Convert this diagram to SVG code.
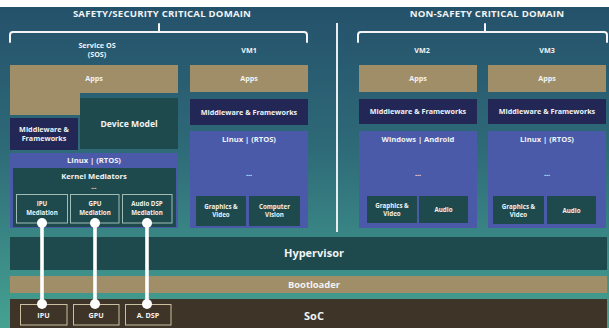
<svg xmlns="http://www.w3.org/2000/svg" width="609" height="328" viewBox="0 0 609 328">
<defs>
<linearGradient id="bg" x1="0" y1="0" x2="0" y2="1">
<stop offset="0" stop-color="#24506a"/>
<stop offset="0.45" stop-color="#2e6a78"/>
<stop offset="1" stop-color="#45a291"/>
</linearGradient>
</defs>
<style>
text{font-family:"Open Sans","DejaVu Sans",sans-serif;font-weight:700;fill:#f1f3f4;text-anchor:middle;}
.t{font-size:9.6px;letter-spacing:0.2px}
.h{font-size:7.2px}
.l{font-size:7.6px}
.s{font-size:7.2px}
.xs{font-size:6.2px}
.m{font-size:8.6px}
.b{font-size:11px}
.bt{font-size:9.4px}
.tan{fill:#a08e68}
.navy{fill:#222755}
.dk{fill:#1f4a4d}
.blue{fill:#4a5aa9}
.soc{fill:#3e3428}
.med{fill:#1f4a4d;stroke:#9fbdb5;stroke-width:1}
.chip{fill:#3e3428;stroke:#cbbf9f;stroke-width:1}
.br{fill:none;stroke:#f2f4f5;stroke-width:2;stroke-linecap:round}
.conn line{stroke:#ffffff;stroke-width:3.6}
.conn circle{fill:#ffffff}
</style>
<rect x="0" y="0" width="609" height="328" fill="url(#bg)"/>
<rect x="0" y="0" width="609" height="7" fill="#ffffff"/>

<g id="domains">
<text class="t" x="162" y="17">SAFETY/SECURITY CRITICAL DOMAIN</text>
<path class="br" d="M10,42 V35 Q10,32 13,32 H304 Q307,32 307,35 V42 M159,24 V32"/>
<text class="t" x="487" y="17">NON-SAFETY CRITICAL DOMAIN</text>
<path class="br" d="M358,42 V35 Q358,32 361,32 H604 Q607,32 607,35 V42 M485,24 V32"/>
<line x1="337" y1="23" x2="337" y2="232" stroke="#e8eef0" stroke-width="2"/>
</g>

<g id="sos">
<text class="h" x="97" y="48">Service OS</text>
<text class="h" x="97" y="57">(SOS)</text>
<path class="tan" d="M10,65 H178 V93 H80 V115 H10 Z"/>
<text class="h" x="94" y="81">Apps</text>
<rect class="navy" x="10" y="118" width="68" height="32"/>
<text class="h" x="44" y="132">Middleware &amp;</text>
<text class="h" x="44" y="141">Frameworks</text>
<rect class="dk" x="80" y="98" width="98" height="51"/>
<text class="m" x="129" y="127">Device Model</text>
<rect class="blue" x="10" y="153" width="168" height="75"/>
<text class="l" x="94" y="163">Linux | (RTOS)</text>
<rect class="dk" x="13" y="168" width="163" height="59"/>
<text class="l" x="94" y="178.5">Kernel Mediators</text>
<text class="xs" x="94" y="189">...</text>
</g>
<g id="ipu-med"><rect class="med" x="16.5" y="194.5" width="51" height="28.5"/><text class="xs" x="42" y="206">IPU</text><text class="xs" x="42" y="215">Mediation</text></g>
<g id="gpu-med"><rect class="med" x="70.5" y="194.5" width="48.5" height="28.5"/><text class="xs" x="95" y="206">GPU</text><text class="xs" x="95" y="215">Mediation</text></g>
<g id="dsp-med"><rect class="med" x="122.5" y="194.5" width="49.5" height="28.5"/><text class="xs" x="147" y="206">Audio DSP</text><text class="xs" x="147" y="215">Mediation</text></g>

<g id="vm1">
<text class="h" x="249" y="53">VM1</text>
<rect class="tan" x="190" y="65" width="118" height="27"/>
<text class="h" x="249" y="81">Apps</text>
<rect class="navy" x="190" y="99" width="118" height="26"/>
<text class="h" x="249" y="114.5">Middleware &amp; Frameworks</text>
<rect class="blue" x="190" y="131" width="118" height="97"/>
<text class="l" x="249" y="142">Linux | (RTOS)</text>
<text class="h" x="249" y="176">...</text>
<rect class="dk" x="196" y="196" width="50" height="30"/>
<text class="xs" x="221" y="209">Graphics &amp;</text><text class="xs" x="221" y="217">Video</text>
<rect class="dk" x="249" y="196" width="51" height="30"/>
<text class="xs" x="274.5" y="209">Computer</text><text class="xs" x="274.5" y="217">Vision</text>
</g>

<g id="vm2">
<text class="h" x="422" y="53">VM2</text>
<rect class="tan" x="359" y="65" width="118" height="27"/>
<text class="h" x="418" y="81">Apps</text>
<rect class="navy" x="359" y="99" width="118" height="25"/>
<text class="h" x="418" y="114">Middleware &amp; Frameworks</text>
<rect class="blue" x="359" y="131" width="118" height="97"/>
<text class="l" x="418" y="142">Windows | Android</text>
<text class="h" x="418" y="176">...</text>
<rect class="dk" x="367" y="196" width="50" height="27"/>
<text class="xs" x="392" y="208">Graphics &amp;</text><text class="xs" x="392" y="216">Video</text>
<rect class="dk" x="419" y="196" width="49" height="27"/>
<text class="xs" x="443.5" y="212">Audio</text>
</g>

<g id="vm3">
<text class="h" x="547" y="53">VM3</text>
<rect class="tan" x="488" y="65" width="118" height="27"/>
<text class="h" x="547" y="81">Apps</text>
<rect class="navy" x="488" y="99" width="118" height="25"/>
<text class="h" x="547" y="114">Middleware &amp; Frameworks</text>
<rect class="blue" x="488" y="131" width="118" height="97"/>
<text class="l" x="547" y="142">Linux | (RTOS)</text>
<text class="h" x="547" y="176">...</text>
<rect class="dk" x="493" y="196" width="51" height="28"/>
<text class="xs" x="518.5" y="209">Graphics &amp;</text><text class="xs" x="518.5" y="217">Video</text>
<rect class="dk" x="547" y="196" width="49" height="28"/>
<text class="xs" x="571.5" y="213">Audio</text>
</g>

<g id="hypervisor"><rect class="dk" x="10" y="237" width="597" height="33"/><text class="b" x="314" y="257">Hypervisor</text></g>
<g id="bootloader"><rect class="tan" x="10" y="276" width="597" height="17"/><text class="bt" x="314" y="288">Bootloader</text></g>
<g id="soc"><rect class="soc" x="10" y="299" width="597" height="29"/><text class="b" x="314" y="320">SoC</text></g>
<g id="ipu"><rect class="chip" x="20.5" y="304.5" width="46.5" height="20.5"/><text class="s" x="43.5" y="318">IPU</text></g>
<g id="gpu"><rect class="chip" x="73.5" y="304.5" width="45.5" height="20.5"/><text class="s" x="96" y="318">GPU</text></g>
<g id="adsp"><rect class="chip" x="125.5" y="304.5" width="45.5" height="20.5"/><text class="s" x="148" y="318">A. DSP</text></g>

<g id="connectors" class="conn">
<line x1="42" y1="223" x2="42" y2="304"/><circle cx="42" cy="223" r="5"/><circle cx="42" cy="304" r="5"/>
<line x1="95" y1="223" x2="95" y2="304"/><circle cx="95" cy="223" r="5"/><circle cx="95" cy="304" r="5"/>
<line x1="147" y1="223" x2="147" y2="304"/><circle cx="147" cy="223" r="5"/><circle cx="147" cy="304" r="5"/>
</g>
</svg>
